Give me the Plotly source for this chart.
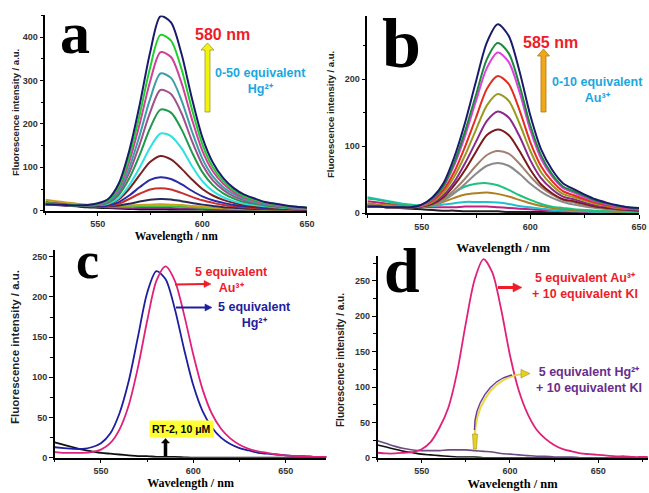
import plotly.graph_objects as go

W, H = 649, 493
SANS = "Liberation Sans, Arial, sans-serif"
SERIF = "Liberation Serif, Times New Roman, serif"

# ---------------- data ----------------
WL_AB = [525, 530, 535, 540, 545, 550, 555, 560, 565, 570, 575, 580, 585,
         590, 595, 600, 605, 610, 615, 620, 625, 630, 635, 640, 645, 650]
WL_C = [525, 530, 535, 540, 545, 550, 555, 560, 565, 570, 575, 580, 585, 590, 595, 600,
        605, 610, 615, 620, 625, 630, 635, 640, 645, 650, 655, 660, 665, 670, 675]
WL_D = [525, 530, 535, 540, 545, 550, 555, 560, 565, 570, 575, 580, 585, 590, 595, 600,
        605, 610, 615, 620, 625, 630, 635, 640, 645, 650, 655, 660, 665, 670, 675, 680]

# panel a: 0-50 equivalent Hg2+
A_HG_01 = [15, 14, 13, 12, 13, 17, 27, 62, 137, 243, 364, 448, 434, 362, 259, 169, 111, 75, 52, 37, 28, 20, 16, 12, 9, 7]
A_HG_02 = [15, 14, 13, 12, 13, 16, 25, 56, 124, 220, 329, 405, 392, 327, 234, 153, 100, 68, 47, 33, 25, 19, 15, 11, 9, 7]
A_HG_03 = [15, 14, 13, 12, 13, 15, 24, 52, 112, 199, 297, 365, 354, 295, 211, 138, 91, 62, 43, 30, 23, 17, 13, 10, 8, 6]
A_HG_04 = [15, 14, 13, 12, 13, 15, 22, 46, 98, 173, 257, 316, 306, 255, 183, 120, 79, 54, 38, 27, 20, 15, 12, 9, 7, 6]
A_HG_05 = [15, 14, 13, 12, 12, 14, 20, 41, 87, 152, 226, 278, 269, 225, 161, 106, 70, 48, 33, 24, 18, 14, 11, 8, 6, 5]
A_HG_06 = [15, 14, 13, 12, 12, 13, 18, 36, 74, 128, 190, 233, 226, 188, 135, 89, 59, 40, 28, 20, 16, 12, 9, 7, 6, 5]
A_HG_07 = [15, 14, 13, 12, 12, 13, 16, 29, 58, 99, 145, 178, 172, 144, 103, 68, 45, 31, 22, 16, 13, 10, 8, 6, 5, 4]
A_HG_08 = [15, 14, 13, 12, 12, 12, 15, 26, 50, 82, 112, 126, 118, 97, 72, 50, 35, 25, 18, 13, 10, 8, 6, 5, 4, 3]
A_HG_09 = [14, 13, 12, 11, 10, 10, 12, 20, 35, 54, 71, 77, 73, 61, 46, 33, 24, 18, 13, 10, 8, 6, 5, 4, 3, 3]
A_HG_10 = [14, 13, 12, 11, 10, 9, 11, 16, 27, 39, 49, 52, 49, 41, 32, 24, 18, 13, 10, 8, 6, 5, 4, 3, 3, 2]
A_HG_11 = [15, 14, 13, 12, 11, 10, 10, 12, 16, 21, 25, 27, 26, 22, 18, 14, 11, 8, 7, 5, 4, 4, 3, 3, 2, 2]
A_HG_12 = [25, 22, 19, 16, 14, 12, 11, 11, 12, 13, 14, 15, 14, 13, 11, 9, 7, 6, 5, 4, 3, 3, 2, 2, 2, 2]
A_HG_13 = [18, 16, 14, 12, 11, 10, 9, 9, 9, 10, 10, 10, 10, 9, 8, 7, 6, 5, 4, 3, 3, 2, 2, 2, 1, 1]
A_HG_14 = [20, 18, 16, 14, 12, 10, 8, 7, 6, 6, 6, 6, 6, 5, 5, 4, 4, 3, 3, 2, 2, 2, 1, 1, 1, 1]
A_HG_15 = [16, 14, 12, 10, 8, 7, 6, 5, 4, 3, 3, 3, 2, 2, 2, 2, 1, 1, 1, 1, 1, 1, 0, 0, 0, 0]

# panel b: 0-10 equivalent Au3+
B_AU_01 = [10, 10, 9, 9, 9, 13, 24, 45, 84, 136, 197, 255, 282, 265, 212, 146, 95, 65, 45, 36, 28, 21, 16, 12, 9, 8]
B_AU_02 = [10, 10, 9, 9, 9, 13, 22, 41, 76, 123, 177, 230, 254, 239, 191, 131, 86, 58, 40, 33, 26, 19, 15, 11, 9, 7]
B_AU_03 = [10, 10, 9, 9, 9, 12, 21, 40, 72, 116, 168, 217, 240, 226, 181, 124, 81, 55, 38, 31, 24, 18, 14, 10, 8, 7]
B_AU_04 = [10, 10, 9, 9, 9, 12, 19, 35, 62, 100, 143, 186, 205, 193, 154, 106, 70, 48, 33, 27, 21, 16, 12, 9, 7, 6]
B_AU_05 = [10, 10, 9, 9, 9, 11, 17, 31, 55, 87, 125, 161, 178, 168, 134, 93, 61, 42, 29, 24, 19, 14, 11, 8, 7, 6]
B_AU_06 = [10, 10, 9, 9, 9, 11, 16, 27, 47, 75, 107, 138, 152, 143, 115, 79, 52, 36, 25, 21, 16, 12, 10, 7, 6, 5]
B_AU_07 = [10, 10, 9, 9, 9, 10, 14, 24, 42, 65, 92, 117, 125, 117, 93, 65, 43, 30, 21, 18, 14, 10, 8, 6, 5, 4]
B_AU_08 = [12, 11, 10, 9, 9, 10, 14, 22, 35, 52, 71, 87, 93, 89, 74, 55, 39, 28, 20, 16, 12, 9, 7, 5, 4, 3]
B_AU_09 = [12, 11, 10, 9, 9, 10, 13, 19, 30, 44, 59, 71, 75, 71, 59, 44, 32, 23, 17, 13, 10, 8, 6, 5, 4, 3]
B_AU_10 = [22, 20, 17, 14, 12, 11, 13, 20, 31, 40, 44, 45, 42, 35, 27, 20, 14, 10, 8, 6, 5, 4, 3, 3, 2, 2]
B_AU_11 = [15, 13, 12, 11, 10, 10, 12, 17, 23, 28, 30, 31, 29, 25, 20, 15, 11, 8, 6, 5, 4, 3, 3, 2, 2, 2]
B_AU_12 = [24, 21, 18, 15, 13, 11, 11, 13, 15, 17, 17, 17, 16, 14, 11, 9, 7, 5, 4, 3, 3, 2, 2, 2, 1, 1]
B_AU_13 = [18, 16, 14, 12, 11, 10, 9, 9, 9, 10, 10, 10, 9, 8, 7, 6, 5, 4, 3, 3, 2, 2, 2, 1, 1, 1]
B_AU_14 = [14, 12, 10, 8, 7, 6, 5, 4, 4, 3, 3, 3, 3, 2, 2, 2, 2, 1, 1, 1, 1, 1, 1, 0, 0, 0]

# panel c
C_AU = [7, 6, 6, 6, 7, 10, 18, 35, 65, 112, 170, 220, 238, 220, 178, 128, 85, 55, 36, 24, 16, 11, 8, 6, 4, 3, 2, 2, 1, 1, 1]
C_HG = [13, 12, 11, 11, 13, 18, 30, 55, 95, 150, 205, 232, 222, 185, 135, 90, 58, 38, 25, 17, 12, 9, 6, 5, 4, 3, 2, 2, 1, 1, 1]
C_RT = [19, 16, 13, 10, 8, 6, 5, 4, 3, 2, 2, 1, 1, 1, 0.5, 0, 0, 0, 0, 0, 0, 0, 0, 0, 0, 0, 0, 0, 0, 0, 0]

# panel d
D_AU_KI = [7, 6, 6, 7, 8, 12, 22, 42, 70, 120, 190, 252, 281, 262, 210, 145, 95, 62, 40, 27, 18, 12, 9, 6, 5, 4, 3, 2, 2, 1, 1, 1]
D_HG_KI = [24, 20, 16, 13, 11, 10, 10, 10, 11, 11, 11, 10, 9, 8, 6, 5, 4, 3, 2, 2, 1, 1, 1, 0, 0, 0, 0, 0, 0, 0, 0, 0]
D_RT = [18, 15, 12, 9, 7, 5, 4, 3, 2, 1, 1, 1, 0, 0, 0, 0, 0, 0, 0, 0, 0, 0, 0, 0, 0, 0, 0, 0, 0, 0, 0, 0]

# ---------------- styles ----------------
A_LIST = [A_HG_15, A_HG_14, A_HG_13, A_HG_12, A_HG_11, A_HG_10, A_HG_09, A_HG_08,
          A_HG_07, A_HG_06, A_HG_05, A_HG_04, A_HG_03, A_HG_02, A_HG_01]
A_COLORS = ["#151515", "#803080", "#40c040", "#c8a020", "#2a2a5a", "#c83030", "#2a2aa8", "#7a2020",
            "#2fe0e0", "#1f9a4a", "#a0508a", "#3aa0a8", "#d0409a", "#1fcf2f", "#1b1b6b"]
B_LIST = [B_AU_14, B_AU_13, B_AU_12, B_AU_11, B_AU_10, B_AU_09, B_AU_08, B_AU_07,
          B_AU_06, B_AU_05, B_AU_04, B_AU_03, B_AU_02, B_AU_01]
B_COLORS = ["#202020", "#c02080", "#20c0d0", "#b08020", "#20c080", "#8a8a8a", "#a08070", "#7a1a1a",
            "#8a2a8a", "#9a9a20", "#e03020", "#e040e0", "#1a8a3a", "#1b1b6b"]

fig = go.Figure()


def add(x, y, color, xa, ya, width=2.0):
    fig.add_trace(go.Scatter(x=x, y=y, mode="lines", line=dict(color=color, width=width, shape="spline", smoothing=0.8),
                             xaxis=xa, yaxis=ya, showlegend=False, hoverinfo="skip"))


for ys, c in zip(A_LIST, A_COLORS):
    add(WL_AB, ys, c, "x", "y")
for ys, c in zip(B_LIST, B_COLORS):
    add(WL_AB, ys, c, "x2", "y2")
add(WL_C, C_RT, "#111111", "x3", "y3", 1.8)
add(WL_C, C_HG, "#1e1e9e", "x3", "y3", 1.8)
add(WL_C, C_AU, "#e0207a", "x3", "y3", 1.8)
add(WL_D, D_RT, "#111111", "x4", "y4", 1.6)
add(WL_D, D_HG_KI, "#6e4a80", "x4", "y4", 1.6)
add(WL_D, D_AU_KI, "#e0207a", "x4", "y4", 1.8)

XT = "Wavelength / nm"
YT = "Fluorescence intensity / a.u."


def xax(domain, rng, anchor, tsize, standoff):
    return dict(domain=domain, range=rng, anchor=anchor, tickmode="linear", tick0=550, dtick=50,
                ticks="outside", ticklen=4, tickwidth=1.2, tickcolor="black",
                showline=True, linecolor="black", linewidth=1.5, showgrid=False, zeroline=False,
                tickfont=dict(family=SANS, size=9, color="#333333", weight="bold"),
                minor=dict(ticks="outside", ticklen=3, tickcolor="black", dtick=25, tick0=0, showgrid=False),
                title=dict(text=XT, standoff=standoff,
                           font=dict(family=SERIF, size=tsize, color="black", weight="bold")),
                automargin=False, fixedrange=True)


def yax(domain, rng, anchor, dt, mdt):
    return dict(domain=domain, range=rng, anchor=anchor, tickmode="linear", tick0=0, dtick=dt,
                ticks="outside", ticklen=4, tickwidth=1.2, tickcolor="black",
                showline=True, linecolor="black", linewidth=1.5, showgrid=False, zeroline=False,
                tickfont=dict(family=SANS, size=9, color="#333333", weight="bold"),
                minor=dict(ticks="outside", ticklen=3, tickcolor="black", dtick=mdt, tick0=0, showgrid=False),
                automargin=False, fixedrange=True)


def P(x, y):
    return x / W, 1 - y / H


def path(pts, close=True):
    s = "M " + " L ".join(f"{x / W:.5f},{1 - y / H:.5f}" for x, y in pts)
    return s + (" Z" if close else "")


annotations = []


def text(t, x, y, size, color="black", family=SANS, **kw):
    px, py = P(x, y)
    annotations.append(dict(text=t, x=px, y=py, xref="paper", yref="paper", xanchor="center",
                            yanchor="middle", showarrow=False,
                            font=dict(family=family, size=size, color=color, weight="bold"), **kw))


shapes = []


def arrow(x0, y0, x1, y1, color, width, hl, hw):
    # straight arrow drawn as a line and a filled head (pixel coordinates)
    shapes.append(dict(type="path", xref="paper", yref="paper", path=path([(x0, y0), (x1 - hl + 1, y1)], close=False),
                       line=dict(color=color, width=width)))
    shapes.append(dict(type="path", xref="paper", yref="paper",
                       path=path([(x1 - hl, y1 - hw), (x1, y1), (x1 - hl, y1 + hw)]),
                       fillcolor=color, line=dict(color=color, width=0.5)))


RED = "#ee1c2a"
CYAN = "#1aa7e0"
BLUE = "#1e1e9e"
PURPLE = "#6a2d8c"

# panel letters
text("a", 75, 33.5, 60, family=SERIF, borderpad=0)
text("b", 401, 44, 70, family=SERIF, borderpad=0)
text("c", 87, 260, 52, family=SERIF, borderpad=0)
text("d", 401.5, 270, 64, family=SERIF, borderpad=0)

# y-axis titles
text(YT, 15, 113, 9.5, color="#222222", textangle=-90)
text(YT, 331, 115, 9.5, color="#222222", textangle=-90)
text(YT, 15, 347, 11.5, color="#222222", textangle=-90)
text(YT, 340, 360, 10, color="#222222", textangle=-90)

# panel a labels
text("580 nm", 222, 34, 16, color=RED)
text("0-50 equivalent<br>Hg²⁺", 260.5, 81, 12.5, color=CYAN)
# panel b labels
text("585 nm", 550, 42, 16, color=RED)
text("0-10 equivalent<br>Au³⁺", 597, 90, 12.5, color=CYAN)
# panel c labels
text("5 equivalent<br>Au³⁺", 232, 280, 12.5, color=RED)
text("5 equivalent<br>Hg²⁺", 254, 314.5, 12.5, color=BLUE)
arrow(175, 284.5, 211, 284, RED, 2, 7, 3.5)
arrow(176, 307.5, 212, 307.5, BLUE, 2, 7, 3.5)
text("RT-2, 10 μM", 181, 428.5, 10.5, bgcolor="#ffff33", borderpad=2)
# panel d labels
text("5 equivalent Au³⁺<br>+ 10 equivalent KI", 585, 286, 12.5, color=RED)
text("5 equivalent Hg²⁺<br>+ 10 equivalent KI", 589, 379.5, 12.5, color=PURPLE)
arrow(498, 287.5, 522, 287.5, RED, 3, 9, 4.5)

shapes += [
    # yellow arrow (a)
    dict(type="path", xref="paper", yref="paper",
         path=path([(205, 112), (210, 112), (210, 50), (214, 50), (207.5, 43), (201, 50), (205, 50)]),
         fillcolor="#f2f20a", line=dict(color="#9a9a30", width=0.8)),
    # orange arrow (b)
    dict(type="path", xref="paper", yref="paper",
         path=path([(541, 112), (546, 112), (546, 56), (549.5, 56), (543.5, 49), (537.5, 56), (541, 56)]),
         fillcolor="#f0a818", line=dict(color="#b07810", width=0.8)),
    # black arrow (c)
    dict(type="path", xref="paper", yref="paper",
         path=path([(164, 456), (167, 456), (167, 443), (169.5, 443), (165.5, 438.5), (161.5, 443), (164, 443)]),
         fillcolor="#000000", line=dict(color="#000000", width=0.5)),
    # curved arrow (d)
    dict(type="path", xref="paper", yref="paper",
         path="M {:.5f},{:.5f} C {:.5f},{:.5f} {:.5f},{:.5f} {:.5f},{:.5f}".format(
             475 / W, 1 - 447 / H, 472 / W, 1 - 410 / H, 490 / W, 1 - 378 / H, 522 / W, 1 - 374 / H),
         line=dict(color="#e8d84a", width=2.2)),
    dict(type="path", xref="paper", yref="paper",
         path="M {:.5f},{:.5f} C {:.5f},{:.5f} {:.5f},{:.5f} {:.5f},{:.5f}".format(
             474.5 / W, 1 - 430 / H, 474 / W, 1 - 405 / H, 490 / W, 1 - 379 / H, 512 / W, 1 - 375 / H),
         line=dict(color="#6a3a9a", width=1.4)),
    dict(type="path", xref="paper", yref="paper",
         path=path([(521, 369.5), (530, 373.5), (521, 378)]),
         fillcolor="#e8d020", line=dict(color="#a09020", width=0.6)),
    dict(type="path", xref="paper", yref="paper",
         path=path([(472.5, 434), (477.5, 434), (476.5, 449), (473.5, 449)]),
         fillcolor="#e8d020", line=dict(color="#a09020", width=0.6)),
]

fig.update_layout(
    width=W, height=H, margin=dict(l=0, r=0, t=0, b=0),
    paper_bgcolor="white", plot_bgcolor="white", showlegend=False,
    xaxis=xax([0.0700, 0.4730], [525, 650], "y", 11.5, 4),
    yaxis=yax([0.5726, 0.9688], [0, 450], "x", 100, 50),
    xaxis2=xax([0.5661, 0.9846], [525, 650], "y2", 13, 12),
    yaxis2=yax([0.5673, 0.9683], [0, 295], "x2", 100, 50),
    xaxis3=xax([0.0844, 0.5028], [525, 672], "y3", 12, 3),
    yaxis3=yax([0.0716, 0.4923], [0, 258], "x3", 50, 25),
    xaxis4=xax([0.5817, 0.9980], [525, 678], "y4", 12.5, 4),
    yaxis4=yax([0.0716, 0.4803], [0, 285], "x4", 50, 25),
    annotations=annotations, shapes=shapes,
)

fig.write_html("out.html", config={"displayModeBar": False},
               post_script="document.body.style.margin='0';document.body.style.overflow='hidden';")
